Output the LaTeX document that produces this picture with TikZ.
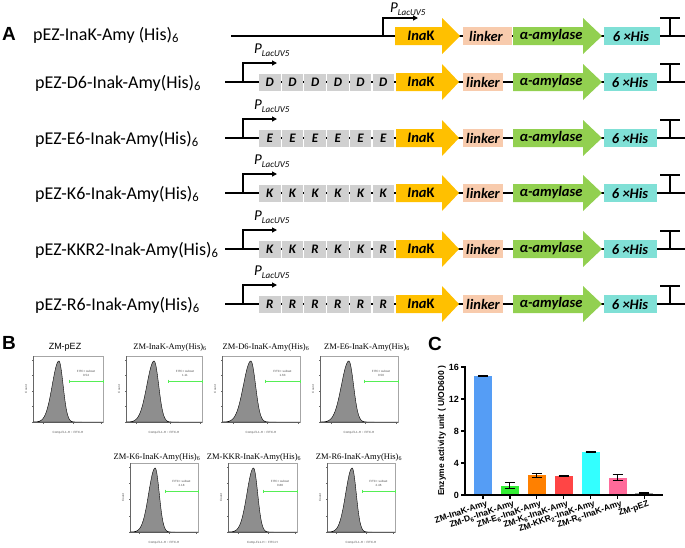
\documentclass[tikz,border=0pt]{standalone}
\usepackage{fontspec}
\setmainfont{Carlito}
\newfontfamily\arialf{Liberation Sans}
\newfontfamily\timesf{Liberation Serif}
\usetikzlibrary{arrows.meta}
\definecolor{inakc}{HTML}{FFC000}
\definecolor{linkc}{HTML}{F8CBAD}
\definecolor{amyc}{HTML}{92D050}
\definecolor{hisc}{HTML}{80E0D6}
\definecolor{boxgray}{HTML}{D0D0D0}
\definecolor{histgray}{HTML}{8E8E8E}
\definecolor{gatec}{HTML}{55EE55}
\definecolor{cA}{HTML}{559DF5}
\definecolor{cB}{HTML}{33EE33}
\definecolor{cC}{HTML}{FF8000}
\definecolor{cD}{HTML}{FF4545}
\definecolor{cE}{HTML}{33FFFF}
\definecolor{cF}{HTML}{FF6A9A}
\definecolor{cG}{HTML}{A0A0A0}
\tikzset{
  bb/.style={line width=1.2pt},
  prom/.style={line width=1.2pt,-{Triangle[length=5pt,width=5pt]}},
  graybox/.style={fill=boxgray,minimum width=21.5pt,minimum height=17pt,inner sep=0pt,font=\fontsize{13}{13}\selectfont\bfseries\itshape},
  genetxt/.style={inner sep=0pt,font=\fontsize{14.5}{14.5}\selectfont\bfseries\itshape},
  lbl/.style={anchor=base west,inner sep=0pt,font=\fontsize{18}{18}\selectfont},
  plab/.style={anchor=base west,inner sep=0pt,font=\fontsize{15}{15}\selectfont\itshape},
  panel/.style={anchor=base west,inner sep=0pt,font=\fontsize{19}{19}\selectfont\arialf\bfseries},
  htitle/.style={anchor=base,inner sep=0pt,font=\fontsize{8.5}{8.5}\selectfont\timesf},
  tinyt/.style={inner sep=0pt,font=\fontsize{3}{3}\selectfont\arialf,text=black!70},
  histframe/.style={draw=black!35,line width=0.3pt},
  ctick/.style={font=\fontsize{9}{9}\selectfont\arialf\bfseries,inner sep=0pt},
  xlab/.style={font=\fontsize{8.5}{8.5}\selectfont\arialf\bfseries,inner sep=0pt,rotate=19,anchor=north east},
  errb/.style={line width=0.9pt},
}
\newcommand{\histo}[8]{%
  \pgfmathsetmacro\hW{#2-#1}%
  \pgfmathsetmacro\hP{#1+0.37*\hW}%
  \pgfmathsetmacro\hH{#4-#3-5}%
  \pgfmathsetmacro\hL{0.095*\hW}%
  \pgfmathsetmacro\hR{0.06*\hW}%
  \draw[histframe] (#1,#3) rectangle (#2,#4);
  \draw[black!60,line width=0.3pt] (#1,#3) -- (#1,#4) -- (#2,#4);
  \foreach \t in {0,0.25,0.5,0.75,1} {\draw[black!60,line width=0.3pt] (#1,{#4-\t*(#4-#3-4)}) -- (#1-1.5,{#4-\t*(#4-#3-4)});}
  \foreach \t in {0.14,0.58,0.98} {\draw[black!60,line width=0.3pt] ({#1+\t*\hW},#4) -- ({#1+\t*\hW},#4+1.5);}
  \filldraw[fill=histgray,draw=black,line width=0.4pt] plot[domain=#1:#2,samples=100] (\x,{#4-\hH*exp(-(\x-\hP)*(\x-\hP)/(2*((\x<\hP) ? (\hL*\hL) : (\hR*\hR))))}) -- cycle;
  \draw[gatec,line width=0.8pt] (#5,#6) -- (#2,#6);
  \draw[gatec,line width=0.5pt] (#5,#6-1.5) -- (#5,#6+1.5) (#2,#6-1.5) -- (#2,#6+1.5);
  \node[tinyt] (g1#7) at ({(#5+#2)/2},#6-10) {FITC+ subset};
  \node[tinyt] (g2#7) at ({(#5+#2)/2},#6-6) {#8};
  \node[tinyt] (c#7) at (#1-7,{(#3+#4)/2}) [rotate=90] {Count};
  \node[tinyt] (x#7) at ({(#1+#2)/2},#4+11) {Comp-FL1-H :: FITC-H};
}
\begin{document}
\begin{tikzpicture}[x=1pt,y=-1pt]
\useasboundingbox (0,0) rectangle (685,547);
\fill[white] (0,0) rectangle (685,547);

% ---------------- Panel A ----------------
\node[panel] (pA) at (2,40) {A};

% row 1
\coordinate (r1s) at (231,36);
\coordinate (r1e) at (685,36);
\draw[bb] (r1s) -- (r1e);
\coordinate (p1) at (383,36);
\coordinate (p1t) at (418,18);
\draw[prom] (p1) |- (p1t);
\node[plab] (pl1) at (390,12) {P\raisebox{-0.45ex}{\fontsize{9}{9}\selectfont LacUV5}};
\node[lbl] (lab1) at (33,40) {pEZ-InaK-Amy (His)\textsubscript{6}};
\fill[inakc] (395,27) -- (442,27) -- (442,18) -- (460,36) -- (442,54) -- (442,45) -- (395,45) -- cycle;
\node[genetxt] (inak1) at (421,36) {Ina\upshape K};
\fill[linkc] (463,27) rectangle (512,45);
\node[genetxt] (link1) at (486,36) {linker};
\fill[amyc] (513,27) -- (583,27) -- (583,18) -- (602,36) -- (583,54) -- (583,45) -- (513,45) -- cycle;
\node[genetxt] (amy1) at (551,36) {α-amylase};
\fill[hisc] (604,27) rectangle (660,45);
\node[genetxt] (his1) at (631,36) {6 ×His};
\draw[bb] (670,36) -- (670,18);
\draw[bb] (660,18) -- (680,18);

% rows 2-6
\foreach \r/\yy/\lab/\lst in {
  2/82/{pEZ-D6-Inak-Amy(His)}/{D,D,D,D,D,D},
  3/138/{pEZ-E6-Inak-Amy(His)}/{E,E,E,E,E,E},
  4/193/{pEZ-K6-Inak-Amy(His)}/{K,K,K,K,K,K},
  5/249/{pEZ-KKR2-Inak-Amy(His)}/{K,K,R,K,K,R},
  6/304/{pEZ-R6-Inak-Amy(His)}/{R,R,R,R,R,R}} {
  \coordinate (s\r) at (225,\yy);
  \coordinate (e\r) at (685,\yy);
  \draw[bb] (s\r) -- (e\r);
  \coordinate (p\r) at (243,\yy);
  \coordinate (pt\r) at (277,\yy-19);
  \draw[prom] (p\r) |- (pt\r);
  \node[plab] (pl\r) at (254,\yy-29) {P\raisebox{-0.45ex}{\fontsize{9}{9}\selectfont LacUV5}};
  \node[lbl] (lab\r) at (35,\yy+6) {\lab\textsubscript{6}};
  \foreach \k [count=\i from 0] in \lst {
    \node[graybox] (b\r-\i) at ({259+10.75+22.7*\i},\yy) {\k};
  }
  \fill[inakc] (396,\yy-9) -- (442,\yy-9) -- (442,\yy-18) -- (459,\yy) -- (442,\yy+18) -- (442,\yy+9) -- (396,\yy+9) -- cycle;
  \node[genetxt] (inak\r) at (421,\yy) {Ina\upshape K};
  \fill[linkc] (463,\yy-9) rectangle (503,\yy+9);
  \node[genetxt] (link\r) at (483,\yy) {linker};
  \fill[amyc] (513,\yy-9) -- (583,\yy-9) -- (583,\yy-18) -- (602,\yy) -- (583,\yy+18) -- (583,\yy+9) -- (513,\yy+9) -- cycle;
  \node[genetxt] (amy\r) at (551,\yy) {α-amylase};
  \fill[hisc] (604,\yy-9) rectangle (657,\yy+9);
  \node[genetxt] (his\r) at (630,\yy) {6 ×His};
  \draw[bb] (670,\yy) -- (670,\yy-18);
  \draw[bb] (660,\yy-18) -- (680,\yy-18);
}

% ---------------- Panel B ----------------
\node[panel] (pB) at (2,349) {B};
\node[htitle,font=\fontsize{9}{9}\selectfont\arialf] (t1) at (65,349) {ZM-pEZ};
\node[htitle] (t2) at (170,349) {ZM-InaK-Amy(His)\textsubscript{6}};
\node[htitle] (t3) at (266,349) {ZM-D6-InaK-Amy(His)\textsubscript{6}};
\node[htitle] (t4) at (367,349) {ZM-E6-InaK-Amy(His)\textsubscript{6}};
\node[htitle] (t5) at (157,459) {ZM-K6-InaK-Amy(His)\textsubscript{6}};
\node[htitle] (t6) at (254,459) {ZM-KKR-InaK-Amy(His)\textsubscript{6}};
\node[htitle] (t7) at (359,459) {ZM-R6-InaK-Amy(His)\textsubscript{6}};
\histo{33}{103}{356}{422}{69}{381}{h1}{0.54}
\histo{126}{202}{356}{422}{168}{381}{h2}{1.11}
\histo{222}{300}{356}{422}{265}{381}{h3}{1.63}
\histo{320}{398}{356}{422}{364}{381}{h4}{0.50}
\histo{130}{198}{463}{532}{165}{491}{h5}{2.18}
\histo{228}{297}{463}{532}{263}{491}{h6}{0.88}
\histo{327}{395}{463}{532}{362}{491}{h7}{2.46}

% ---------------- Panel C ----------------
\node[panel] (pC) at (428,350) {C};
\foreach \i/\v/\e/\c in {0/14.87/0.08/cA,1/1.18/0.37/cB,2/2.5/0.25/cC,3/2.38/0.05/cD,4/5.42/0.05/cE,5/2.18/0.38/cF,6/0.22/0.08/cG} {
  \pgfmathsetmacro\bx{483+26.9*\i}
  \fill[\c] (\bx-9,495) rectangle (\bx+9,{495-8*\v});
  \draw[errb] (\bx,{495-8*(\v-\e)}) -- (\bx,{495-8*(\v+\e)});
  \draw[errb] (\bx-5,{495-8*(\v-\e)}) -- (\bx+5,{495-8*(\v-\e)});
  \draw[errb] (\bx-5,{495-8*(\v+\e)}) -- (\bx+5,{495-8*(\v+\e)});
  \draw[line width=1.2pt] (\bx,495) -- (\bx,499);
}
\coordinate (ytop) at (465,366);
\coordinate (orig) at (465,495);
\coordinate (xend) at (663,495);
\draw[line width=1.4pt] (ytop) -- (orig) -- (xend);
\foreach \v in {0,4,8,12,16} {
  \draw[line width=1.2pt] (461,{495-8*\v}) -- (465,{495-8*\v});
  \node[ctick,anchor=east] (yt\v) at (459,{495-8*\v}) {\v};
}
\node[ctick,font=\fontsize{8.5}{8.5}\selectfont\arialf\bfseries,rotate=90] (ylab) at (442,431) {Enzyme activity unit ( U/OD600 )};
\foreach \i/\t in {0/{ZM-InaK-Amy},1/{ZM-D\textsubscript{6}-InaK-Amy},2/{ZM-E\textsubscript{6}-InaK-Amy},3/{ZM-K\textsubscript{6}-InaK-Amy},4/{ZM-KKR\textsubscript{2}-InaK-Amy},5/{ZM-R\textsubscript{6}-InaK-Amy},6/{ZM-pEZ}} {
  \node[xlab] (xl\i) at ({486+26.9*\i},500) {\t};
}
\end{tikzpicture}
\end{document}
